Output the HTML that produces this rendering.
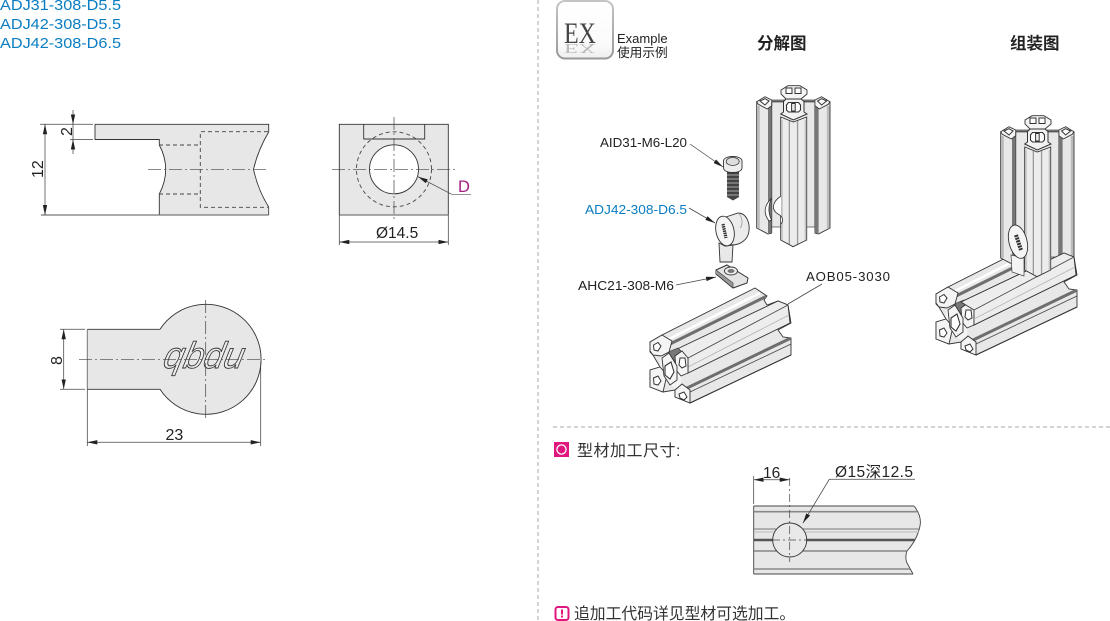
<!DOCTYPE html>
<html><head><meta charset="utf-8"><style>
html,body{margin:0;padding:0;background:#fff}
svg{display:block}
text{font-family:"Liberation Sans","Noto Sans CJK SC",sans-serif;fill:#222}
.k{stroke:#333;stroke-width:.9;fill:none}
.t{stroke:#444;stroke-width:.75;fill:none}
.c{stroke:#444;stroke-width:.7;fill:none;stroke-dasharray:13 3 2 3}
.d{stroke:#444;stroke-width:.9;fill:none;stroke-dasharray:4 3}
.f{fill:#e7e7e8}
.lobe{fill:#f4f4f4;stroke:#333;stroke-width:.9}
.hole{fill:#fff;stroke:#333;stroke-width:1}
</style></head><body>
<svg width="1110" height="621" viewBox="0 0 1110 621" xmlns="http://www.w3.org/2000/svg">
<defs>
<marker id="a" viewBox="0 0 10 4.4" refX="10" refY="2.2" markerWidth="10" markerHeight="4.4" markerUnits="userSpaceOnUse" orient="auto-start-reverse"><path d="M0 0L10 2.2L0 4.4z" fill="#222"/></marker>
<linearGradient id="eg" x1="0" y1="0" x2="0" y2="1"><stop offset="0" stop-color="#fff"/><stop offset=".75" stop-color="#fbfbfb"/><stop offset="1" stop-color="#eee"/></linearGradient>
<linearGradient id="bd" x1="0" y1="0" x2="0" y2="1"><stop offset="0" stop-color="#c4c4c4"/><stop offset="1" stop-color="#999"/></linearGradient>

<g id="vback">
<rect x="771.7" y="100" width="43.3" height="127" fill="#e8e8e8" stroke="#444" stroke-width=".7"/>
<path d="M756.7 102V228L768 234L771.7 233V102z" fill="#e8e8e8" stroke="#333" stroke-width=".9"/>
<rect x="757.2" y="106" width="2.6" height="122" fill="#bbb"/>
<rect x="768" y="106" width="3.6" height="127" fill="#777"/>
<path d="M830 102V228L818.5 234L815 233V102z" fill="#e8e8e8" stroke="#333" stroke-width=".9"/>
<rect x="826.8" y="106" width="2.6" height="122" fill="#bbb"/>
<rect x="815" y="106" width="3.6" height="127" fill="#777"/>
<path d="M756.7 101.7L765 96.7L771.7 100V105.7L767.3 109L758.3 104.3z" class="lobe"/>
<path d="M760 101L765 98.7L769 101L765 105z" class="hole"/>
<path d="M829.9 101.7L821.6 96.7L814.9 100V105.7L819.3 109L828.3 104.3z" class="lobe"/>
<path d="M826.6 101L821.6 98.7L817.6 101L821.6 105z" class="hole"/>
<path d="M771.7 101.5H815" stroke="#555" stroke-width="1.8" fill="none"/>
<path d="M781 90L788 85.7H800L807 90V94L801 99H786L781 94z" class="lobe"/>
<rect x="786" y="88" width="6" height="5.5" class="hole"/>
<rect x="795" y="88" width="6" height="5.5" class="hole"/>
</g>
<g id="vcol">
<path d="M780.7 117L793.3 122L806.7 117V240L793 246.7L780.7 240z" fill="#ececec" stroke="#333" stroke-width=".9"/>
<rect x="788.7" y="121" width="1.3" height="123" fill="#999"/>
<rect x="796.9" y="121" width="1.3" height="123" fill="#999"/>
<rect x="781.2" y="120" width="1.6" height="120" fill="#c4c4c4"/>
<rect x="804.6" y="120" width="1.6" height="120" fill="#c4c4c4"/>
<path d="M786 99H801L804 101.5V112L807 114L793.3 120L780.7 114L783.5 112V101.5z" fill="#f2f2f2" stroke="#333" stroke-width="1"/>
<path d="M788.5 102.5H798.5L800.5 105V110L798.5 112H788.5L786.5 110V105z" fill="#fff" stroke="#333" stroke-width="1.1"/>
<rect x="791.6" y="103.5" width="3.6" height="7.5" fill="#eee" stroke="#333" stroke-width="1"/>
</g>

<g id="hcol">
<path d="M675 350L778 301L788 305L790 323L688 373V358z" fill="#ededed" stroke="#333" stroke-width=".9"/>
<path d="M688 358L788 305" stroke="#444" stroke-width=".8"/>
<path d="M688 367L789 315" stroke="#b5b5b5" stroke-width=".8"/>
</g>
<g id="hp">
<path d="M650 342L662 335L755 288L767 296L764 300L767 305L778 301L788 305L791 323L778 330L783 337L791 338V355L690 403L675 397V390L663 392L650 387V370L660 367L653 355L650 352z" fill="#e8e8e8" stroke="#333" stroke-width=".9"/>
<path d="M665 341L760 293" stroke="#fff" stroke-width="2.4"/>
<path d="M664 347L766 296.5" stroke="#6e6e6e" stroke-width="3"/>
<use href="#hcol"/>
<path d="M685 389L790 338.5" stroke="#6e6e6e" stroke-width="3"/>
<path d="M690 392L791 344" stroke="#444" stroke-width=".8"/>
<path d="M690 403L791 355" stroke="#333" stroke-width="1"/>
<path d="M660 352L684 356L680 390L660 380z" fill="#f4f4f4"/>
<path d="M668 352L678 348L684 354L675 362z" fill="#777" stroke="#333" stroke-width=".6"/>
<path class="lobe" d="M650 342L662 335L672 341L669 352L661 356L653 355L650 351z"/>
<path class="lobe" d="M675 356L682 351L688 358V373L681 376L676 370z"/>
<path class="lobe" d="M650 370L660 367L667 375L663 392L650 387z"/>
<path class="lobe" d="M675 390L682 384L690 390V403L675 397z"/>
<path class="lobe" d="M662 358L669 353L677 366L677 380L670 385L664 376z"/>
<path class="hole" d="M653.5 345L658 342.5L661 346L658 351L654 350z"/>
<path class="hole" d="M680 358L685 358L686 366L682 368L679 365z"/>
<path class="hole" d="M653.5 378L658 376L661 381L658 385L654 384z"/>
<path class="hole" d="M679 394L684 392L687 397L684 400L680 398z"/>
<path d="M665 366L671 362L674 372L670 379L665 375z" fill="#fff" stroke="#333" stroke-width="1.1"/>
</g>
</defs>

<!-- top-left codes -->
<text x="0" y="10" font-size="15" textLength="121" lengthAdjust="spacingAndGlyphs" style="fill:#0a7dc2">ADJ31-308-D5.5</text>
<text x="0" y="29" font-size="15" textLength="121" lengthAdjust="spacingAndGlyphs" style="fill:#0a7dc2">ADJ42-308-D5.5</text>
<text x="0" y="48" font-size="15" textLength="121" lengthAdjust="spacingAndGlyphs" style="fill:#0a7dc2">ADJ42-308-D6.5</text>

<!-- side view -->
<path class="f" d="M95 124.3H268.7V132Q258 150 253.5 169.3Q258 190 268.7 207V215H159.3V194Q165.7 182 165.7 169.3Q165.7 157 159.3 145V139.5H95z"/>
<path class="k" d="M95 124.3H268.7V132Q258 150 253.5 169.3Q258 190 268.7 207M159.3 215V194Q165.7 182 165.7 169.3Q165.7 157 159.3 145V139.5H95V124.3"/>
<path d="M41 215H268.7" stroke="#777" stroke-width="1.2"/>
<path d="M268.7 207V215" stroke="#333" stroke-width=".8"/>
<path class="d" d="M159 145H200.3M159 194H200.3M268 131.7H200.3V207.3H268"/>
<path class="c" d="M148 169.3H269"/>
<path class="t" d="M40 124.3H93M70 139.5H93"/>
<path class="t" d="M45 124.3V215" marker-start="url(#a)" marker-end="url(#a)"/>
<path class="t" d="M73 110V124.3" marker-end="url(#a)"/>
<path class="t" d="M73 154V139.5" marker-end="url(#a)"/>
<path class="t" d="M73 124.3V139.5"/>
<text transform="translate(43,178) rotate(-90)" font-size="16">12</text>
<text transform="translate(72,136) rotate(-90)" font-size="16">2</text>

<!-- front view -->
<rect class="f" x="339.3" y="124.3" width="109" height="90.7"/>
<path class="k" d="M339.3 215V124.3H448.3V215"/>
<path d="M339.3 215H448.3" stroke="#777" stroke-width="1.3"/>
<path class="k" d="M363.7 124.3V139H424.7V124.3"/>
<circle cx="394" cy="169.3" r="37.5" class="d" />
<circle cx="394" cy="169.3" r="24.5" fill="#fff" stroke="#333" stroke-width=".9"/>
<path class="c" d="M332 169.3H456M394 117V220"/>
<path class="t" d="M451.7 194.3L418 176.7" marker-end="url(#a)"/>
<path d="M451.7 194.3H471" stroke="#555" stroke-width=".7"/>
<text x="458" y="192" font-size="16.5" style="fill:#a0207f">D</text>
<path class="t" d="M339.3 215V245M448.3 215V245"/>
<path class="t" d="M339.3 242H448.3" marker-start="url(#a)" marker-end="url(#a)"/>
<text x="376" y="238" font-size="15.5">Ø14.5</text>

<!-- top view -->
<path class="f" d="M87.3 329.3H160A55 55 0 1 1 160 389.3H87.3z"/>
<path d="M87.3 329.3H160A55 55 0 1 1 160 389.3H87.3" fill="none" stroke="#333" stroke-width=".9"/>
<path d="M87.3 329.3V389.3" stroke="#777" stroke-width="1"/>
<text transform="translate(162,368) skewX(-12)" font-size="37" font-style="italic" textLength="80" lengthAdjust="spacingAndGlyphs" style="fill:#eee;stroke:#333;stroke-width:.9">qbdu</text>
<path class="c" d="M79 359.3H266.7M205.7 300V420"/>
<path class="t" d="M60 329.3H85M60 389.3H85"/>
<path class="t" d="M63.7 329.3V389.3" marker-start="url(#a)" marker-end="url(#a)"/>
<text transform="translate(62,365) rotate(-90)" font-size="16">8</text>
<path class="t" d="M87.3 389V446M260.7 362V446"/>
<path class="t" d="M87.3 442.3H260.7" marker-start="url(#a)" marker-end="url(#a)"/>
<text x="165.5" y="440" font-size="16">23</text>

<!-- dividers -->
<path d="M538 0V621" stroke="#a8a8a8" stroke-width="1" stroke-dasharray="4 3"/>
<path d="M553 427H1110" stroke="#a8a8a8" stroke-width="1" stroke-dasharray="4 3"/>

<!-- EX icon -->
<rect x="557" y="1" width="56" height="57.5" rx="8" fill="url(#eg)" stroke="url(#bd)" stroke-width="2"/>
<text x="564" y="43" font-size="30" textLength="32" lengthAdjust="spacingAndGlyphs" style="font-family:'Liberation Serif',serif;fill:#444">EX</text>
<text transform="translate(564,44) scale(1,-.45)" font-size="30" textLength="32" lengthAdjust="spacingAndGlyphs" style="font-family:'Liberation Serif',serif;fill:#bbb">EX</text>
<text x="617" y="43" font-size="13">Example</text>
<text x="617" y="57" font-size="12.7">使用示例</text>
<text x="757" y="49" font-size="16.5" font-weight="bold">分解图</text>
<text x="1010" y="49" font-size="16.5" font-weight="bold">组装图</text>

<!-- exploded view -->
<use href="#vback"/>
<use href="#vcol"/>
<path d="M771.5 198C764 206 763 213 769 221L771.5 220C768 213 768 206 771.5 198z" fill="#fff" stroke="#333" stroke-width=".8"/>
<path d="M781 196C772 202 771 210 778 214C784 217 783 222 781 224" fill="#fff" stroke="#333" stroke-width=".8"/>

<!-- screw -->
<path d="M727 172H739V197L733 200.5L727 197z" fill="#444"/>
<path d="M727 175H739M727 179H739M727 183H739M727 187H739M727 191H739M727 195H739" stroke="#aaa" stroke-width="1"/>
<path d="M723.5 161C723.5 155 742 155 742 161V168C742 174 723.5 174 723.5 168z" fill="#eee" stroke="#333" stroke-width=".9"/>
<ellipse cx="732.7" cy="161.5" rx="6.5" ry="4" fill="#ddd" stroke="#333" stroke-width=".8"/>

<!-- connector -->
<path d="M719 243L720 262H732L733 245L725 246z" fill="#e8e8e8" stroke="#333" stroke-width=".9"/>
<path d="M720 219L738 213C746 213 750 222 749 231C748 240 740 245 732 245L725 246C716 240 715 226 720 219z" fill="#ececec" stroke="#333" stroke-width=".9"/>
<ellipse cx="725" cy="231" rx="9" ry="15" transform="rotate(-12 725 231)" fill="#f5f5f5" stroke="#333" stroke-width=".9"/>
<path d="M723 224L726 238" stroke="#333" stroke-width="3.2" stroke-dasharray="1.5 .7"/>
<path d="M738 213C743 217 743 225 740 228" fill="none" stroke="#999" stroke-width=".8"/>

<!-- T nut -->
<path d="M716 270L727 265L748 278L747 283L733 288L716 274z" fill="#e4e4e4" stroke="#333" stroke-width="1"/>
<path d="M716 274L733 288L733 283L716 270" fill="#999" stroke="#333" stroke-width=".6"/>
<ellipse cx="731" cy="271" rx="6.5" ry="4" fill="#eee" stroke="#333" stroke-width=".9"/>
<ellipse cx="731" cy="271" rx="3.5" ry="2" fill="#777"/>

<!-- leaders -->
<path class="t" d="M690 144L723 167" marker-end="url(#a)"/>
<path class="t" d="M689 208L715 223" marker-end="url(#a)"/>
<path class="t" d="M676 285L716 277" marker-end="url(#a)"/>
<path class="t" d="M788 304L822 284"/>
<g font-size="13.2">
<text x="600" y="147" textLength="87" lengthAdjust="spacingAndGlyphs">AID31-M6-L20</text>
<text x="585" y="214" textLength="102" lengthAdjust="spacingAndGlyphs" style="fill:#0a7dc2">ADJ42-308-D6.5</text>
<text x="578" y="290" textLength="96" lengthAdjust="spacingAndGlyphs">AHC21-308-M6</text>
<text x="806" y="281" textLength="84">AOB05-3030</text>
</g>

<use href="#hp"/>

<!-- assembled view -->
<use href="#hp" transform="translate(286,-48)"/>
<use href="#vback" transform="translate(244,30)"/>
<use href="#hcol" transform="translate(286,-48)"/>
<use href="#vcol" transform="translate(244,30)"/>
<path d="M1011 255L1012 272L1024 276L1024 258z" fill="#f4f4f4" stroke="#444" stroke-width=".7"/>
<ellipse cx="1018" cy="241.7" rx="9" ry="17" transform="rotate(-14 1018 241.7)" fill="#f5f5f5" stroke="#333" stroke-width=".9"/>
<path d="M1016 235L1021 250" stroke="#333" stroke-width="4" stroke-dasharray="2 .8"/>

<!-- section heading -->
<rect x="554" y="442" width="15" height="15" fill="#e0177f"/>
<circle cx="561.5" cy="449.5" r="4.6" fill="none" stroke="#fff" stroke-width="1.3"/>
<text x="577" y="456" font-size="16" letter-spacing=".5" style="fill:#333">型材加工尺寸:</text>

<!-- profile detail -->
<path d="M753.7 506H914Q922 516 920 526Q917 540 907 551Q905 556 906.5 562L913 574H753.7z" fill="#e7e7e8"/>
<path d="M914 506Q922 516 920 526Q917 540 907 551Q905 556 906.5 562L913 574M753.7 506H914M753.7 574H913M753.7 506V574" fill="none" stroke="#444" stroke-width=".9"/>
<path d="M754 511.7H917" stroke="#888" stroke-width="1.6"/>
<path d="M754 529H920" stroke="#777" stroke-width="1"/>
<path d="M754 532H919" stroke="#bbb" stroke-width="1"/>
<path d="M754 540H915" stroke="#555" stroke-width="2.6"/>
<path d="M754 551H907" stroke="#555" stroke-width="1"/>
<path d="M754 569H910" stroke="#888" stroke-width="1.4"/>
<circle cx="789.7" cy="540" r="17" fill="#e9e9ea" stroke="#333" stroke-width=".9"/>
<path class="c" d="M772 540H808M789.7 478V562" style="stroke-dasharray:8 3 2 3"/>
<path class="t" d="M753.7 476V504"/>
<path class="t" d="M753.7 479.7H789.7" marker-start="url(#a)" marker-end="url(#a)"/>
<path class="t" d="M915 479.3H829.3L803 523" marker-end="url(#a)"/>
<text x="763" y="478" font-size="15.5">16</text>
<text x="835" y="477" font-size="15.5" textLength="78">Ø15深12.5</text>

<!-- note -->
<rect x="555.5" y="607" width="13" height="13" rx="2.5" fill="#fff" stroke="#e0177f" stroke-width="2"/>
<rect x="561" y="609.5" width="2" height="5" fill="#e0177f"/>
<rect x="561" y="615.5" width="2" height="2" fill="#e0177f"/>
<text x="574" y="619" font-size="15.8" style="fill:#333">追加工代码详见型材可选加工。</text>
</svg>
</body></html>
